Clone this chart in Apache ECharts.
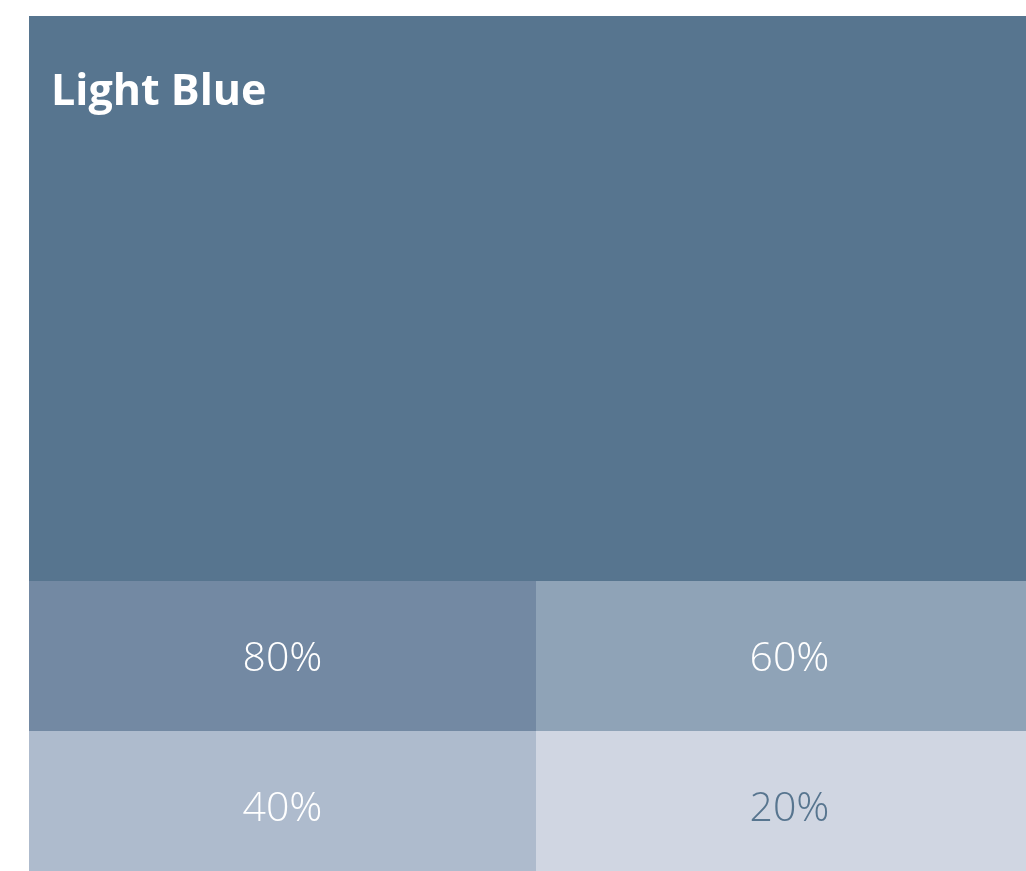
<!DOCTYPE html>
<html>
<head>
<meta charset="utf-8">
<script src="https://cdn.jsdelivr.net/npm/echarts@6/dist/echarts.min.js"></script>
<style>
  html, body { margin: 0; padding: 0; background: #fff; }
  #swatch { width: 1026px; height: 871px; }
</style>
</head>
<body>
<div id="swatch"></div>
<script>
// colour swatch: base colour plus four tints
const titleText = 'Light Blue'
const baseColor = '#57758f'
const shadeLabels = ['80%', '60%', '40%', '20%']
const shadeColors = ['#7389a3', '#8fa3b7', '#aebbcd', '#d0d6e2']
const shadeTextColors = ['#ffffff', '#ffffff', '#ffffff', '#57758f']

// block layout in axis units; the picture is cropped on the right and bottom
const visibleWidth = 997
const visibleHeight = 855
const colWidth = 507
const mainHeight = 565
const rowHeight = 150

const chart = echarts.init(document.getElementById('swatch'))

const cells = [{ name: titleText, value: [0, -1], itemStyle: { color: baseColor } }]
shadeLabels.forEach(function (lbl, i) {
  cells.push({
    name: lbl,
    value: [i % 2, Math.floor(i / 2)],
    itemStyle: { color: shadeColors[i] },
    textColor: shadeTextColors[i]
  })
})

function renderItem (params, api) {
  const col = api.value(0)
  const row = api.value(1)
  const item = cells[params.dataIndex]
  let x0, x1, y0, y1
  if (row < 0) {
    x0 = 0; x1 = 2 * colWidth; y0 = 0; y1 = mainHeight
  } else {
    x0 = col * colWidth; x1 = x0 + colWidth
    y0 = mainHeight + row * rowHeight
    y1 = y0 + rowHeight
  }
  const p0 = api.coord([x0, y0])
  const p1 = api.coord([x1, y1])
  const rect = {
    x: Math.min(p0[0], p1[0]),
    y: Math.min(p0[1], p1[1]),
    width: Math.abs(p1[0] - p0[0]),
    height: Math.abs(p1[1] - p0[1])
  }
  const children = [{
    type: 'rect',
    shape: rect,
    style: { fill: item.itemStyle.color }
  }]
  if (row >= 0) {
    children.push({
      type: 'text',
      x: rect.x + rect.width / 2,
      y: rect.y + rect.height / 2 + 4,
      style: {
        text: item.name,
        fill: item.textColor,
        font: '300 41px "Open Sans Light", "Open Sans"',
        align: 'center',
        verticalAlign: 'middle'
      }
    })
  }
  return { type: 'group', children: children }
}

chart.setOption({
  backgroundColor: '#ffffff',
  animation: false,
  title: {
    text: titleText,
    left: 51,
    top: 71,
    padding: 0,
    textStyle: {
      color: '#ffffff',
      fontFamily: 'Open Sans',
      fontWeight: 'bold',
      fontSize: 43
    }
  },
  grid: { left: 29, right: 0, top: 16, bottom: 0 },
  xAxis: { type: 'value', min: 0, max: visibleWidth, show: false },
  yAxis: { type: 'value', min: 0, max: visibleHeight, inverse: true, show: false },
  series: [{
    type: 'custom',
    renderItem: renderItem,
    data: cells,
    clip: false,
    z: 1
  }]
})
</script>
</body>
</html>
